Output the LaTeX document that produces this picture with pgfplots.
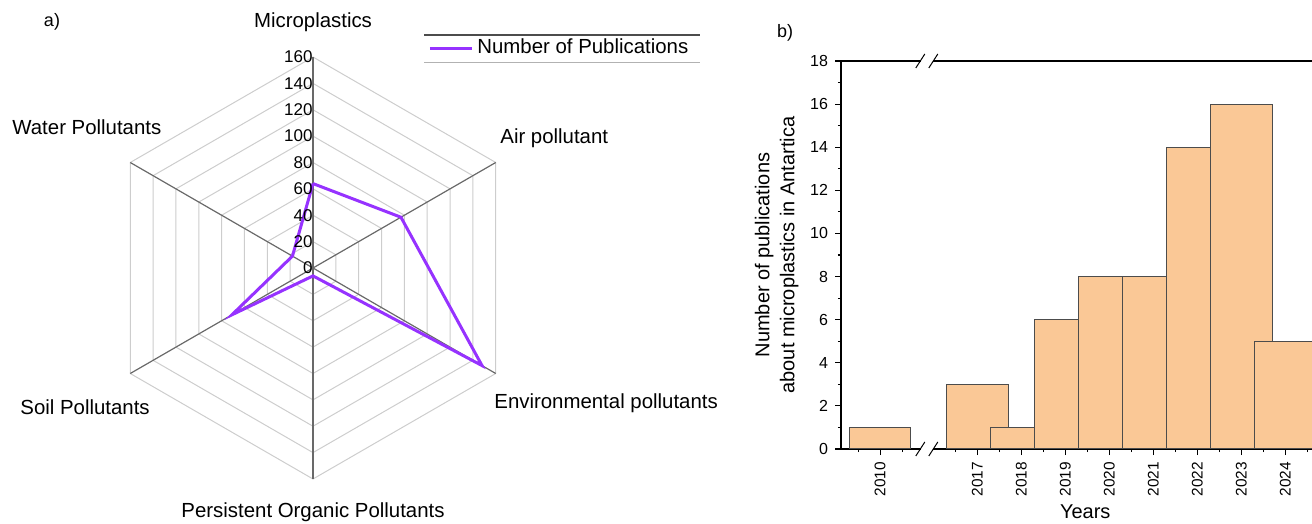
\documentclass[border=0pt]{standalone}
\usepackage{pgfplots}
\pgfplotsset{compat=1.18}
\usepgfplotslibrary{polar}
\usepackage{fontspec}
\setmainfont{Liberation Sans}
\definecolor{pub}{RGB}{150,50,255}
\definecolor{barc}{RGB}{250,200,150}
\definecolor{ring}{RGB}{205,205,205}
\definecolor{spoke}{RGB}{105,105,105}
\pgfplotsset{mybar/.style={ybar, bar width=1.4, fill=barc, draw=black!70, line width=0.5pt, mark=none}}
\begin{document}
\begin{tikzpicture}
\useasboundingbox (0,0) rectangle (656pt,262pt);
\clip (0,0) rectangle (656pt,262pt);
% ---------------- a) radar ----------------
\begin{polaraxis}[
  at={(156.5pt,128pt)}, anchor=origin,
  scale only axis, width=211pt, height=211pt,
  xmin=0, xmax=360, ymin=0, ymax=160,
  hide axis, clip=false,
  legend style={at={(0.7725,1.0213)}, anchor=west, draw=none, fill=none,
    inner sep=0pt, font=\fontsize{10.2}{12}\selectfont},
  legend image code/.code={\draw[#1] (0pt,0pt) -- (21pt,0pt);},
]
\addplot[ring, line width=0.5pt, forget plot] coordinates {(90,20)(30,20)(330,20)(270,20)(210,20)(150,20)(90,20)};
\addplot[ring, line width=0.5pt, forget plot] coordinates {(90,40)(30,40)(330,40)(270,40)(210,40)(150,40)(90,40)};
\addplot[ring, line width=0.5pt, forget plot] coordinates {(90,60)(30,60)(330,60)(270,60)(210,60)(150,60)(90,60)};
\addplot[ring, line width=0.5pt, forget plot] coordinates {(90,80)(30,80)(330,80)(270,80)(210,80)(150,80)(90,80)};
\addplot[ring, line width=0.5pt, forget plot] coordinates {(90,100)(30,100)(330,100)(270,100)(210,100)(150,100)(90,100)};
\addplot[ring, line width=0.5pt, forget plot] coordinates {(90,120)(30,120)(330,120)(270,120)(210,120)(150,120)(90,120)};
\addplot[ring, line width=0.5pt, forget plot] coordinates {(90,140)(30,140)(330,140)(270,140)(210,140)(150,140)(90,140)};
\addplot[ring, line width=0.5pt, forget plot] coordinates {(90,160)(30,160)(330,160)(270,160)(210,160)(150,160)(90,160)};
\addplot[spoke, line width=0.6pt, forget plot] coordinates {(90,0)(90,160)};
\addplot[spoke, line width=0.6pt, forget plot] coordinates {(30,0)(30,160)};
\addplot[spoke, line width=0.6pt, forget plot] coordinates {(330,0)(330,160)};
\addplot[spoke, line width=0.6pt, forget plot] coordinates {(270,0)(270,160)};
\addplot[spoke, line width=0.6pt, forget plot] coordinates {(210,0)(210,160)};
\addplot[spoke, line width=0.6pt, forget plot] coordinates {(150,0)(150,160)};
\addplot[pub, line width=1.5pt] coordinates {(90,64)(30,77)(330,148)(270,6)(210,71)(150,18)(90,64)};
\addlegendentry{Number of Publications}
\foreach \r in {0,20,...,160}{
  \edef\tmp{\noexpand\node[anchor=east, inner sep=0pt, font=\noexpand\fontsize{8.5}{10}\noexpand\selectfont] at (axis cs:90,\r) {\r};}
  \tmp
}
\end{polaraxis}
\draw[black!70, line width=0.6pt] (212pt,244.5pt) -- (350pt,244.5pt);
\draw[gray!60, line width=0.5pt] (212pt,230.5pt) -- (350pt,230.5pt);
\node[font=\fontsize{9}{10}\selectfont] at (26pt,251pt) {a)};
\node[font=\fontsize{10.2}{12}\selectfont] at (156.5pt,251pt) {Microplastics};
\node[anchor=west, inner sep=0pt, font=\fontsize{10.2}{12}\selectfont] at (250pt,193pt) {Air pollutant};
\node[anchor=west, inner sep=0pt, font=\fontsize{10.2}{12}\selectfont] at (247pt,60.5pt) {Environmental pollutants};
\node[font=\fontsize{10.2}{12}\selectfont] at (156.5pt,6pt) {Persistent Organic Pollutants};
\node[anchor=west, inner sep=0pt, font=\fontsize{10.2}{12}\selectfont] at (10pt,58.5pt) {Soil Pollutants};
\node[anchor=west, inner sep=0pt, font=\fontsize{10.2}{12}\selectfont] at (6pt,198.5pt) {Water Pollutants};
% ---------------- b) bars ----------------
\node[font=\fontsize{9}{10}\selectfont] at (392.5pt,245.5pt) {b)};
\begin{axis}[
  at={(420.5pt,37.5pt)}, anchor=south west,
  scale only axis, width=244.2pt, height=194pt,
  xmin=2013.9, xmax=2025, ymin=0, ymax=18,
  axis x line*=box, axis y line*=left,
  xtick pos=bottom, ytick pos=left,
  ytick={0,2,...,18}, minor ytick={1,3,...,17},
  xtick={2014.79,2017,2018,2019,2020,2021,2022,2023,2024},
  xticklabels={2010,2017,2018,2019,2020,2021,2022,2023,2024},
  minor xtick={2014.29,2015.29,2016.5,2017.5,2018.5,2019.5,2020.5,2021.5,2022.5,2023.5,2024.5},
  tick align=outside, major tick length=3pt, minor tick length=1.6pt,
  tick style={black, line width=0.6pt},
  axis line style={black, line width=0.75pt},
  /pgf/number format/assume math mode=true,
  yticklabel style={font=\fontsize{8}{9}\selectfont},
  xticklabel style={rotate=90, anchor=east, font=\fontsize{7.7}{9}\selectfont},
  ylabel={Number of publications\\about microplastics in Antartica},
  ylabel style={align=center, font=\fontsize{10}{12.5}\selectfont, yshift=-1pt},
  xlabel={Years},
  xlabel style={font=\fontsize{10}{12}\selectfont, yshift=2.5pt},
  clip=false,
]
\addplot[mybar] coordinates {(2014.79,1)};
\addplot[mybar] coordinates {(2017,3)};
\addplot[mybar] coordinates {(2018,1)};
\addplot[mybar] coordinates {(2019,6)};
\addplot[mybar] coordinates {(2020,8)};
\addplot[mybar] coordinates {(2021,8)};
\addplot[mybar] coordinates {(2022,14)};
\addplot[mybar] coordinates {(2023,16)};
\addplot[mybar] coordinates {(2024,5)};
\begin{scope}[shift={(axis cs:2015.85,0)}]
 \fill[white] (-3pt,-1pt) rectangle (3pt,1pt);
 \draw[black, line width=0.5pt] (-5.5pt,-3.5pt) -- (-1pt,3.5pt) (1pt,-3.5pt) -- (5.5pt,3.5pt);
\end{scope}
\begin{scope}[shift={(axis cs:2015.85,18)}]
 \fill[white] (-3pt,-1pt) rectangle (3pt,1pt);
 \draw[black, line width=0.5pt] (-5.5pt,-3.5pt) -- (-1pt,3.5pt) (1pt,-3.5pt) -- (5.5pt,3.5pt);
\end{scope}
\end{axis}
\end{tikzpicture}
\end{document}
